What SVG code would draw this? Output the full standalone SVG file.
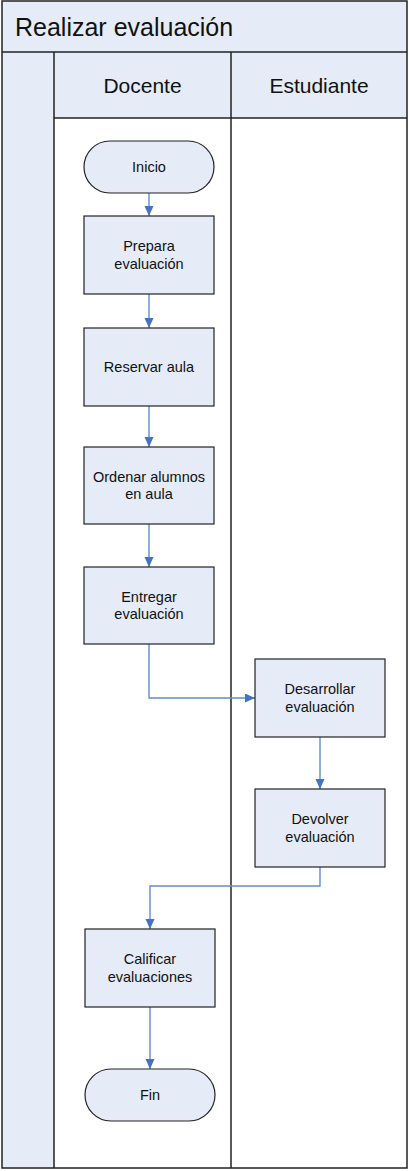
<svg xmlns="http://www.w3.org/2000/svg" width="409" height="1171" viewBox="0 0 409 1171">
<style>
.band{fill:#E5ECF7;stroke:none}
.ln{stroke:#222;stroke-width:1.5;fill:none}
.box{fill:#E5ECF7;stroke:#222;stroke-width:1.2}
.t{font-family:"Liberation Sans",Arial,sans-serif;fill:#111;text-anchor:middle;font-size:14.5px}
.h{font-family:"Liberation Sans",Arial,sans-serif;fill:#111;text-anchor:middle;font-size:21px}
.c{stroke:#5E8DD2;stroke-width:1.4;fill:none}
</style>
<defs>
<marker id="ah" markerUnits="userSpaceOnUse" markerWidth="10" markerHeight="10" refX="10" refY="4.5" orient="auto">
<path d="M0,0 L10,4.5 L0,9 z" fill="#4472C4"/>
</marker>
</defs>
<rect x="0" y="0" width="409" height="1171" fill="#fff"/>
<g id="pool">
<rect class="band" x="2" y="1" width="405" height="51"/>
<rect class="band" x="2" y="52" width="52" height="1116"/>
<rect class="band" x="54" y="52" width="353" height="66"/>
<rect class="ln" x="2" y="1" width="405" height="1167"/>
<line class="ln" x1="2" y1="52" x2="407" y2="52"/>
<line class="ln" x1="54" y1="52" x2="54" y2="1168"/>
<line class="ln" x1="231" y1="52" x2="231" y2="1168"/>
<line class="ln" x1="54" y1="118" x2="407" y2="118"/>
<text x="15" y="36" font-family="Liberation Sans, Arial, sans-serif" font-size="25" fill="#111">Realizar evaluación</text>
<text class="h" x="142.5" y="92.5">Docente</text>
<text class="h" x="319" y="92.5">Estudiante</text>
</g>
<g id="connectors">
<line class="c" x1="149" y1="193" x2="149" y2="216" marker-end="url(#ah)"/>
<line class="c" x1="149" y1="294" x2="149" y2="328" marker-end="url(#ah)"/>
<line class="c" x1="149" y1="406" x2="149" y2="447" marker-end="url(#ah)"/>
<line class="c" x1="149" y1="524" x2="149" y2="567" marker-end="url(#ah)"/>
<path class="c" d="M149 644 V698 H255" marker-end="url(#ah)"/>
<line class="c" x1="320" y1="737" x2="320" y2="789" marker-end="url(#ah)"/>
<path class="c" d="M320 867 V886 H150 V929" marker-end="url(#ah)"/>
<line class="c" x1="150" y1="1007" x2="150" y2="1069" marker-end="url(#ah)"/>
</g>
<g id="inicio">
<rect class="box" x="84" y="141" width="130" height="52" rx="26"/>
<text class="t" x="149" y="172">Inicio</text>
</g>
<g id="prepara">
<rect class="box" x="84" y="216" width="130" height="78"/>
<text class="t" x="149" y="251">Prepara</text>
<text class="t" x="149" y="268.5">evaluación</text>
</g>
<g id="reservar">
<rect class="box" x="84" y="328" width="130" height="78"/>
<text class="t" x="149" y="372">Reservar aula</text>
</g>
<g id="ordenar">
<rect class="box" x="84" y="447" width="130" height="77"/>
<text class="t" x="149" y="481.5">Ordenar alumnos</text>
<text class="t" x="149" y="499">en aula</text>
</g>
<g id="entregar">
<rect class="box" x="84" y="567" width="130" height="77"/>
<text class="t" x="149" y="601.5">Entregar</text>
<text class="t" x="149" y="619">evaluación</text>
</g>
<g id="desarrollar">
<rect class="box" x="255" y="659" width="130" height="78"/>
<text class="t" x="320" y="694">Desarrollar</text>
<text class="t" x="320" y="711.5">evaluación</text>
</g>
<g id="devolver">
<rect class="box" x="255" y="789" width="130" height="78"/>
<text class="t" x="320" y="824">Devolver</text>
<text class="t" x="320" y="841.5">evaluación</text>
</g>
<g id="calificar">
<rect class="box" x="85" y="929" width="130" height="78"/>
<text class="t" x="150" y="964">Calificar</text>
<text class="t" x="150" y="981.5">evaluaciones</text>
</g>
<g id="fin">
<rect class="box" x="85" y="1069" width="130" height="52" rx="26"/>
<text class="t" x="150" y="1100">Fin</text>
</g>
</svg>
